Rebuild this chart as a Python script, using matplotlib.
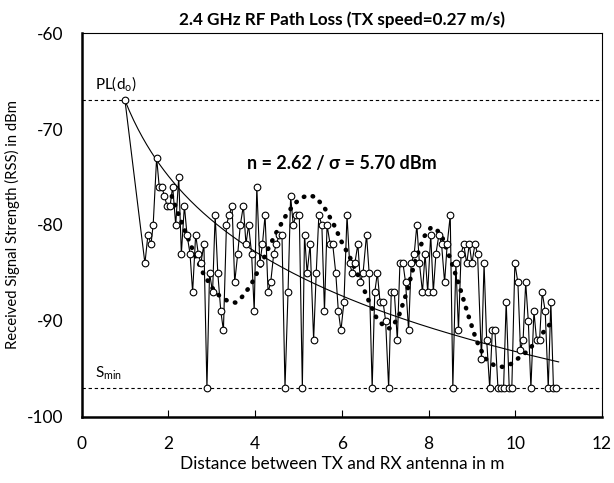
import matplotlib

matplotlib.use("Agg")
import matplotlib.pyplot as plt
import numpy as np

plt.rcParams["font.family"] = ["Lato", "DejaVu Sans"]
plt.rcParams["mathtext.fontset"] = "custom"
plt.rcParams["mathtext.rm"] = "Lato"
plt.rcParams["axes.unicode_minus"] = False

# measured RSS samples (distance in m, RSS in dBm)
DIST = [
    1.00, 1.46, 1.53, 1.60, 1.65, 1.73, 1.79, 1.85, 1.91, 1.97, 2.04, 2.10, 2.17, 2.24,
    2.30, 2.37, 2.43, 2.50, 2.56, 2.63, 2.69, 2.75, 2.82, 2.89, 2.95, 3.02, 3.08, 3.14,
    3.21, 3.27, 3.34, 3.40, 3.47, 3.53, 3.60, 3.66, 3.73, 3.79, 3.85, 3.92, 3.98, 4.04,
    4.11, 4.17, 4.23, 4.30, 4.36, 4.43, 4.49, 4.56, 4.62, 4.69, 4.76, 4.82, 4.88, 4.94,
    5.02, 5.09, 5.14, 5.20, 5.27, 5.35, 5.41, 5.47, 5.54, 5.60, 5.66, 5.73, 5.79, 5.86,
    5.92, 5.98, 6.05, 6.12, 6.18, 6.24, 6.30, 6.37, 6.43, 6.49, 6.57, 6.63, 6.70, 6.76,
    6.82, 6.88, 6.95, 7.01, 7.08, 7.14, 7.21, 7.28, 7.34, 7.41, 7.47, 7.54, 7.60, 7.67,
    7.73, 7.79, 7.86, 7.92, 7.98, 8.05, 8.11, 8.17, 8.24, 8.30, 8.37, 8.43, 8.50, 8.56,
    8.63, 8.69, 8.75, 8.81, 8.88, 8.94, 9.00, 9.07, 9.13, 9.22, 9.28, 9.34, 9.41, 9.47,
    9.53, 9.60, 9.66, 9.73, 9.79, 9.86, 9.92, 9.99, 10.06, 10.12, 10.18, 10.24, 10.30,
    10.36, 10.43, 10.49, 10.56, 10.62, 10.69, 10.76, 10.82, 10.88, 10.95,
]
RSS = [
    -67, -84, -81, -82, -80, -73, -76, -76, -77, -78, -78, -76, -80, -75,
    -83, -78, -81, -83, -87, -81, -83, -84, -82, -97, -85, -87, -79, -85,
    -89, -91, -80, -79, -78, -86, -83, -80, -78, -82, -80, -83, -89, -76,
    -84, -82, -79, -87, -86, -83, -82, -81, -81, -97, -87, -77, -80, -79,
    -79, -97, -81, -85, -82, -92, -85, -79, -80, -89, -80, -82, -82, -85,
    -89, -91, -88, -79, -84, -85, -84, -82, -86, -85, -81, -85, -97, -87,
    -85, -88, -88, -90, -97, -87, -87, -92, -84, -84, -86, -91, -84, -83,
    -80, -84, -87, -83, -87, -81, -87, -83, -81, -82, -86, -82, -79, -97,
    -84, -91, -83, -82, -84, -82, -84, -82, -83, -94, -84, -92, -97, -91,
    -91, -97, -97, -97, -88, -97, -97, -84, -86, -93, -92, -86, -90,
    -97, -89, -92, -92, -87, -89, -97, -88, -97, -97,
]

# trend of the measurements (dotted curve)
TREND_D = [
    2.08, 2.2, 2.4, 2.6, 2.8, 3.0, 3.2, 3.4, 3.55, 3.7, 3.9, 4.1, 4.3, 4.5, 4.7, 4.9,
    5.1, 5.25, 5.4, 5.6, 5.8, 6.0, 6.2, 6.4, 6.6, 6.8, 7.0, 7.12, 7.3, 7.5, 7.7, 7.9,
    8.05, 8.15, 8.3, 8.5, 8.7, 8.9, 9.1, 9.3, 9.5, 9.7, 9.9, 10.1, 10.3, 10.5, 10.7, 10.9,
]
TREND_RSS = [
    -77.0, -78.5, -80.8, -83.0, -85.0, -86.5, -87.5, -88.0, -88.1, -87.5, -86.3, -84.5,
    -82.5, -80.7, -79.1, -77.8, -77.1, -76.9, -77.1, -78.2, -79.8, -81.8, -83.5, -85.5,
    -87.7, -89.7, -90.7, -90.8, -89.7, -87.0, -83.6, -81.2, -80.3, -80.3, -81.1, -83.5,
    -86.2, -89.2, -92.0, -93.9, -94.6, -94.8, -94.5, -93.8, -93.1, -92.0, -90.9, -89.8,
]

PL_D0 = -67.0   # reference RSS at d0 = 1 m
N_EXP = 2.62    # path loss exponent
S_MIN = -97.0   # receiver sensitivity

fig = plt.figure(figsize=(6.14, 4.83), dpi=100, facecolor="white")
ax = fig.add_axes([0.1329, 0.1373, 0.8476, 0.7938])

ax.axhline(PL_D0, color="black", lw=0.8, ls=(0, (3, 2.5)), zorder=1)
ax.axhline(S_MIN, color="black", lw=0.8, ls=(0, (3, 2.5)), zorder=1)

d_fit = np.linspace(1, 11, 200)
ax.plot(d_fit, PL_D0 - 10 * N_EXP * np.log10(d_fit), color="black", lw=0.8, zorder=2)

ax.plot(TREND_D, TREND_RSS, color="black", lw=3.3, ls=(0, (0.1, 1.9)),
        dash_capstyle="round", zorder=3)

ax.plot(DIST, RSS, color="black", lw=0.8, marker="o", markersize=4.8,
        markerfacecolor="white", markeredgecolor="black", markeredgewidth=0.8, zorder=4)

ax.text(0.3, -66.3, r"PL(d$_\mathregular{o}$)", fontsize=11, ha="left", va="bottom")
ax.text(0.3, -96.4, r"S$_\mathregular{min}$", fontsize=11, ha="left", va="bottom")
ax.text(6.0, -73.6, "n = 2.62 / σ = 5.70 dBm", fontsize=13, fontweight="bold",
        ha="center", va="center")

ax.set_xlim(0, 12)
ax.set_ylim(-100, -60)
ax.set_xticks(np.arange(0, 13, 2))
ax.set_yticks(np.arange(-100, -59, 10))
ax.tick_params(axis="x", direction="in", length=5, width=0.8, pad=14, labelsize=12.5)
ax.tick_params(axis="y", length=0, pad=13, labelsize=12.5)

for side in ("left", "bottom"):
    ax.spines[side].set_linewidth(1.8)
for side in ("top", "right"):
    ax.spines[side].set_linewidth(0.8)

ax.set_title("2.4 GHz RF Path Loss (TX speed=0.27 m/s)", fontsize=12.3,
             fontweight="bold", pad=6)
ax.set_xlabel("Distance between TX and RX antenna in m", fontsize=12.4, labelpad=3)
ax.set_ylabel("Received Signal Strength (RSS) in dBm", fontsize=10.7, labelpad=5)

fig.savefig("out.png", dpi=100, facecolor="white")
